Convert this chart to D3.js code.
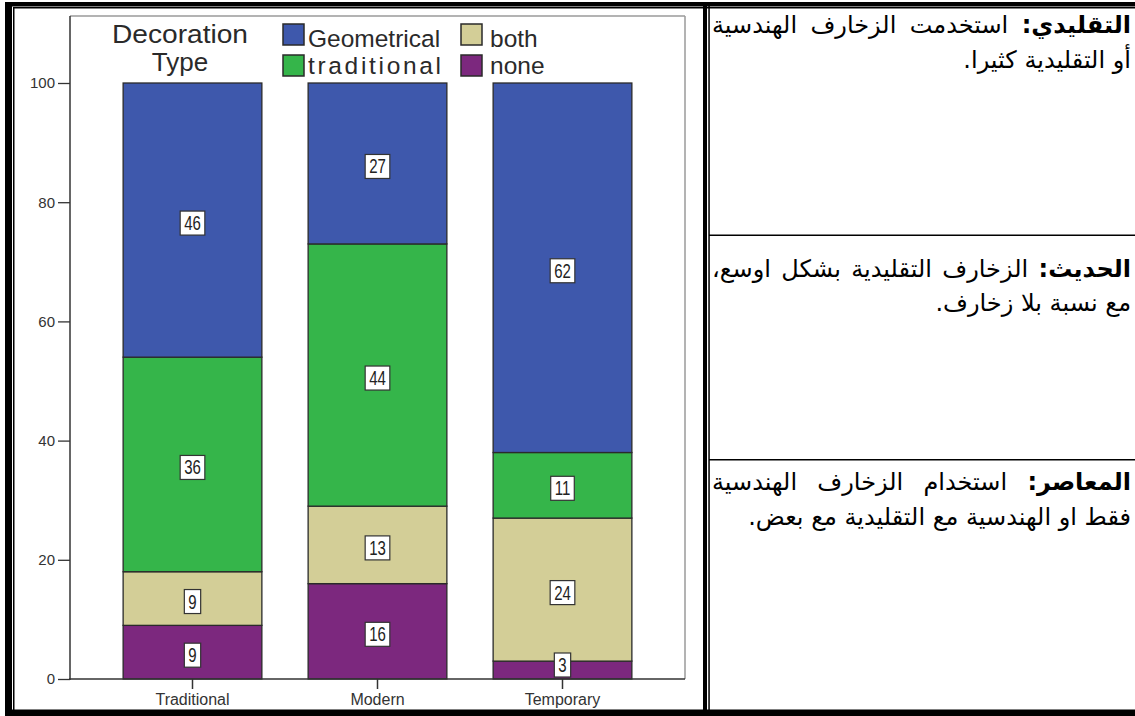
<!DOCTYPE html>
<html><head><meta charset="utf-8">
<script src="https://cdn.jsdelivr.net/npm/d3@7"></script>
<style>body{margin:0;background:#fff} svg{display:block}</style>
</head><body><svg id="c" width="1135" height="716"></svg>
<script>
// ---- data ----
const categories = ["Traditional", "Modern", "Temporary"];
const seriesKeys = ["Geometrical", "traditional", "both", "none"];
const geometrical = [46, 27, 62];
const traditionalVals = [36, 44, 11];
const both = [9, 13, 24];
const none = [9, 16, 3];
const yTicks = [0, 20, 40, 60, 80, 100];
const legendTitle = ["Decoration", "Type"];
const colors = ["#3e58ac", "#35b54a", "#d3ce97", "#7c287e"];
const noteBold = ["التقليدي:", "الحديث:", "المعاصر:"];
const noteRest = [" استخدمت الزخارف الهندسية", " الزخارف التقليدية بشكل اوسع،", " استخدام الزخارف الهندسية"];
const noteLine2 = ["أو التقليدية كثيرا.", "مع نسبة بلا زخارف.", "فقط او الهندسية مع التقليدية مع بعض."];

const rows = categories.map((c, i) => ({
  cat: c, Geometrical: geometrical[i], traditional: traditionalVals[i], both: both[i], none: none[i]
}));
const stackOrder = ["none", "both", "traditional", "Geometrical"];
const colorOf = d3.scaleOrdinal().domain(seriesKeys).range(colors);
const stacked = d3.stack().keys(stackOrder)(rows);

const svg = d3.select("#c");
const y = d3.scaleLinear().domain([0, 100]).range([679, 83]);
const x = d3.scaleBand().domain(categories).range([100, 655]).paddingInner(0.25).paddingOuter(0.125);

// plot frame
svg.append("rect").attr("x", 14).attr("y", 9).attr("width", 689).attr("height", 700).attr("fill", "#fff");
svg.append("line").attr("x1", 70).attr("x2", 685).attr("y1", 16).attr("y2", 16).attr("stroke", "#9a9a9a").attr("stroke-width", 1.5);
svg.append("line").attr("x1", 685).attr("x2", 685).attr("y1", 16).attr("y2", 679).attr("stroke", "#9a9a9a").attr("stroke-width", 1.5);

// bars
const g = svg.append("g");
stacked.forEach(layer => {
  g.selectAll(null).data(layer).enter().append("rect")
    .attr("x", d => x(d.data.cat))
    .attr("width", x.bandwidth())
    .attr("y", d => y(d[1]))
    .attr("height", d => y(d[0]) - y(d[1]))
    .attr("fill", colorOf(layer.key))
    .attr("stroke", "#2a2a2a").attr("stroke-width", 1.3);
});

// axes
const lf = "Liberation Sans, Arial, sans-serif";
const yAxis = svg.append("g").attr("transform", "translate(70,0)")
  .call(d3.axisLeft(y).tickValues(yTicks).tickSize(12).tickSizeOuter(0).tickPadding(3));
yAxis.select(".domain").remove();
yAxis.selectAll("line").attr("stroke", "#333").attr("stroke-width", 1.3);
yAxis.selectAll("text").attr("font-family", lf).attr("font-size", 15).attr("fill", "#333");
svg.append("line").attr("x1", 70).attr("x2", 70).attr("y1", 16).attr("y2", 680).attr("stroke", "#333").attr("stroke-width", 1.5);

const xAxis = svg.append("g").attr("transform", "translate(0,679)")
  .call(d3.axisBottom(x).tickSize(10).tickSizeOuter(0).tickPadding(5));
xAxis.select(".domain").remove();
xAxis.selectAll("line").attr("stroke", "#333").attr("stroke-width", 1.5);
xAxis.selectAll("text").attr("font-family", lf).attr("font-size", 16).attr("fill", "#333");
svg.append("line").attr("x1", 69).attr("x2", 685).attr("y1", 679).attr("y2", 679).attr("stroke", "#333").attr("stroke-width", 1.5);

// value labels
stacked.forEach(layer => {
  layer.forEach(d => {
    const v = d[1] - d[0];
    const cx = x(d.data.cat) + x.bandwidth() / 2;
    let cy = (y(d[0]) + y(d[1])) / 2 + 3;
    cy = Math.min(cy, y(0) - 14);
    const lg = svg.append("g").attr("transform", `translate(${cx},${cy})`);
    const t = lg.append("text").text(v)
      .attr("font-family", lf).attr("font-size", 15)
      .attr("fill", "#222").attr("text-anchor", "middle")
      .attr("transform", "scale(1,1.3)").attr("dy", "0.36em");
    const w = t.node().getComputedTextLength() + 8;
    lg.insert("rect", "text").attr("x", -w / 2).attr("y", -12).attr("width", w).attr("height", 24)
      .attr("fill", "#fff").attr("stroke", "#333").attr("stroke-width", 1.2);
  });
});

// legend
legendTitle.forEach((s, i) => {
  const t = svg.append("text").text(s).attr("x", 180).attr("y", 43 + i * 28)
    .attr("text-anchor", "middle").attr("font-family", lf)
    .attr("font-size", 26).attr("fill", "#2a2a2a");
  if (i === 0) t.attr("textLength", 136).attr("lengthAdjust", "spacingAndGlyphs");
});
const legPos = [[283, 24, 308, 47], [283, 55, 308, 74], [461, 24, 490, 47], [461, 55, 490, 74]];
seriesKeys.forEach((k, i) => {
  const p = legPos[i];
  svg.append("rect").attr("x", p[0]).attr("y", p[1]).attr("width", 21).attr("height", 21)
    .attr("fill", colorOf(k)).attr("stroke", "#2a2a2a").attr("stroke-width", 1.5);
  const t = svg.append("text").text(k).attr("x", p[2]).attr("y", p[3])
    .attr("font-family", lf).attr("font-size", 24.5).attr("fill", "#2a2a2a");
  if (k === "traditional") t.attr("textLength", 133).attr("lengthAdjust", "spacing");
});

// table borders
const B = "#000";
svg.append("rect").attr("x", 5).attr("y", 2).attr("width", 1130).attr("height", 4.5).attr("fill", B);
svg.append("rect").attr("x", 13).attr("y", 7).attr("width", 1122).attr("height", 1.5).attr("fill", B);
svg.append("rect").attr("x", 5).attr("y", 2).attr("width", 7).attr("height", 714).attr("fill", B);
svg.append("rect").attr("x", 13).attr("y", 7).attr("width", 1.5).attr("height", 703).attr("fill", B);
svg.append("rect").attr("x", 703).attr("y", 2).attr("width", 4).attr("height", 714).attr("fill", B);
svg.append("rect").attr("x", 708.3).attr("y", 2).attr("width", 1.5).attr("height", 714).attr("fill", B);
svg.append("rect").attr("x", 5).attr("y", 709.5).attr("width", 1130).attr("height", 6.5).attr("fill", B);
[234.5, 459].forEach(yy => svg.append("rect").attr("x", 709).attr("y", yy).attr("width", 426).attr("height", 1.5).attr("fill", B));

// arabic notes
const af = "DejaVu Sans, sans-serif";
const fs = 24;
const baselines = [[33, 68], [277, 311], [490, 525]];
const rightX = 1131, lineW = 419;
noteBold.forEach((b, i) => {
  const t1 = svg.append("text").attr("x", rightX).attr("y", baselines[i][0]).attr("direction", "rtl").attr("text-anchor", "start")
    .attr("font-family", af).attr("font-size", fs).attr("fill", "#000");
  t1.append("tspan").attr("font-weight", "bold").text(b);
  t1.append("tspan").text(noteRest[i]);
  const len = t1.node().getComputedTextLength();
  const spaces = (b + noteRest[i]).split(" ").length - 1;
  if (len < lineW) t1.style("word-spacing", ((lineW - len) / spaces) + "px");
  else t1.attr("textLength", lineW).attr("lengthAdjust", "spacingAndGlyphs");
  const t2 = svg.append("text").attr("x", rightX).attr("y", baselines[i][1]).attr("direction", "rtl").attr("text-anchor", "start")
    .attr("font-family", af).attr("font-size", fs).attr("fill", "#000").text(noteLine2[i]);
  if (t2.node().getComputedTextLength() > lineW) t2.attr("textLength", lineW).attr("lengthAdjust", "spacingAndGlyphs");
});
</script></body></html>
